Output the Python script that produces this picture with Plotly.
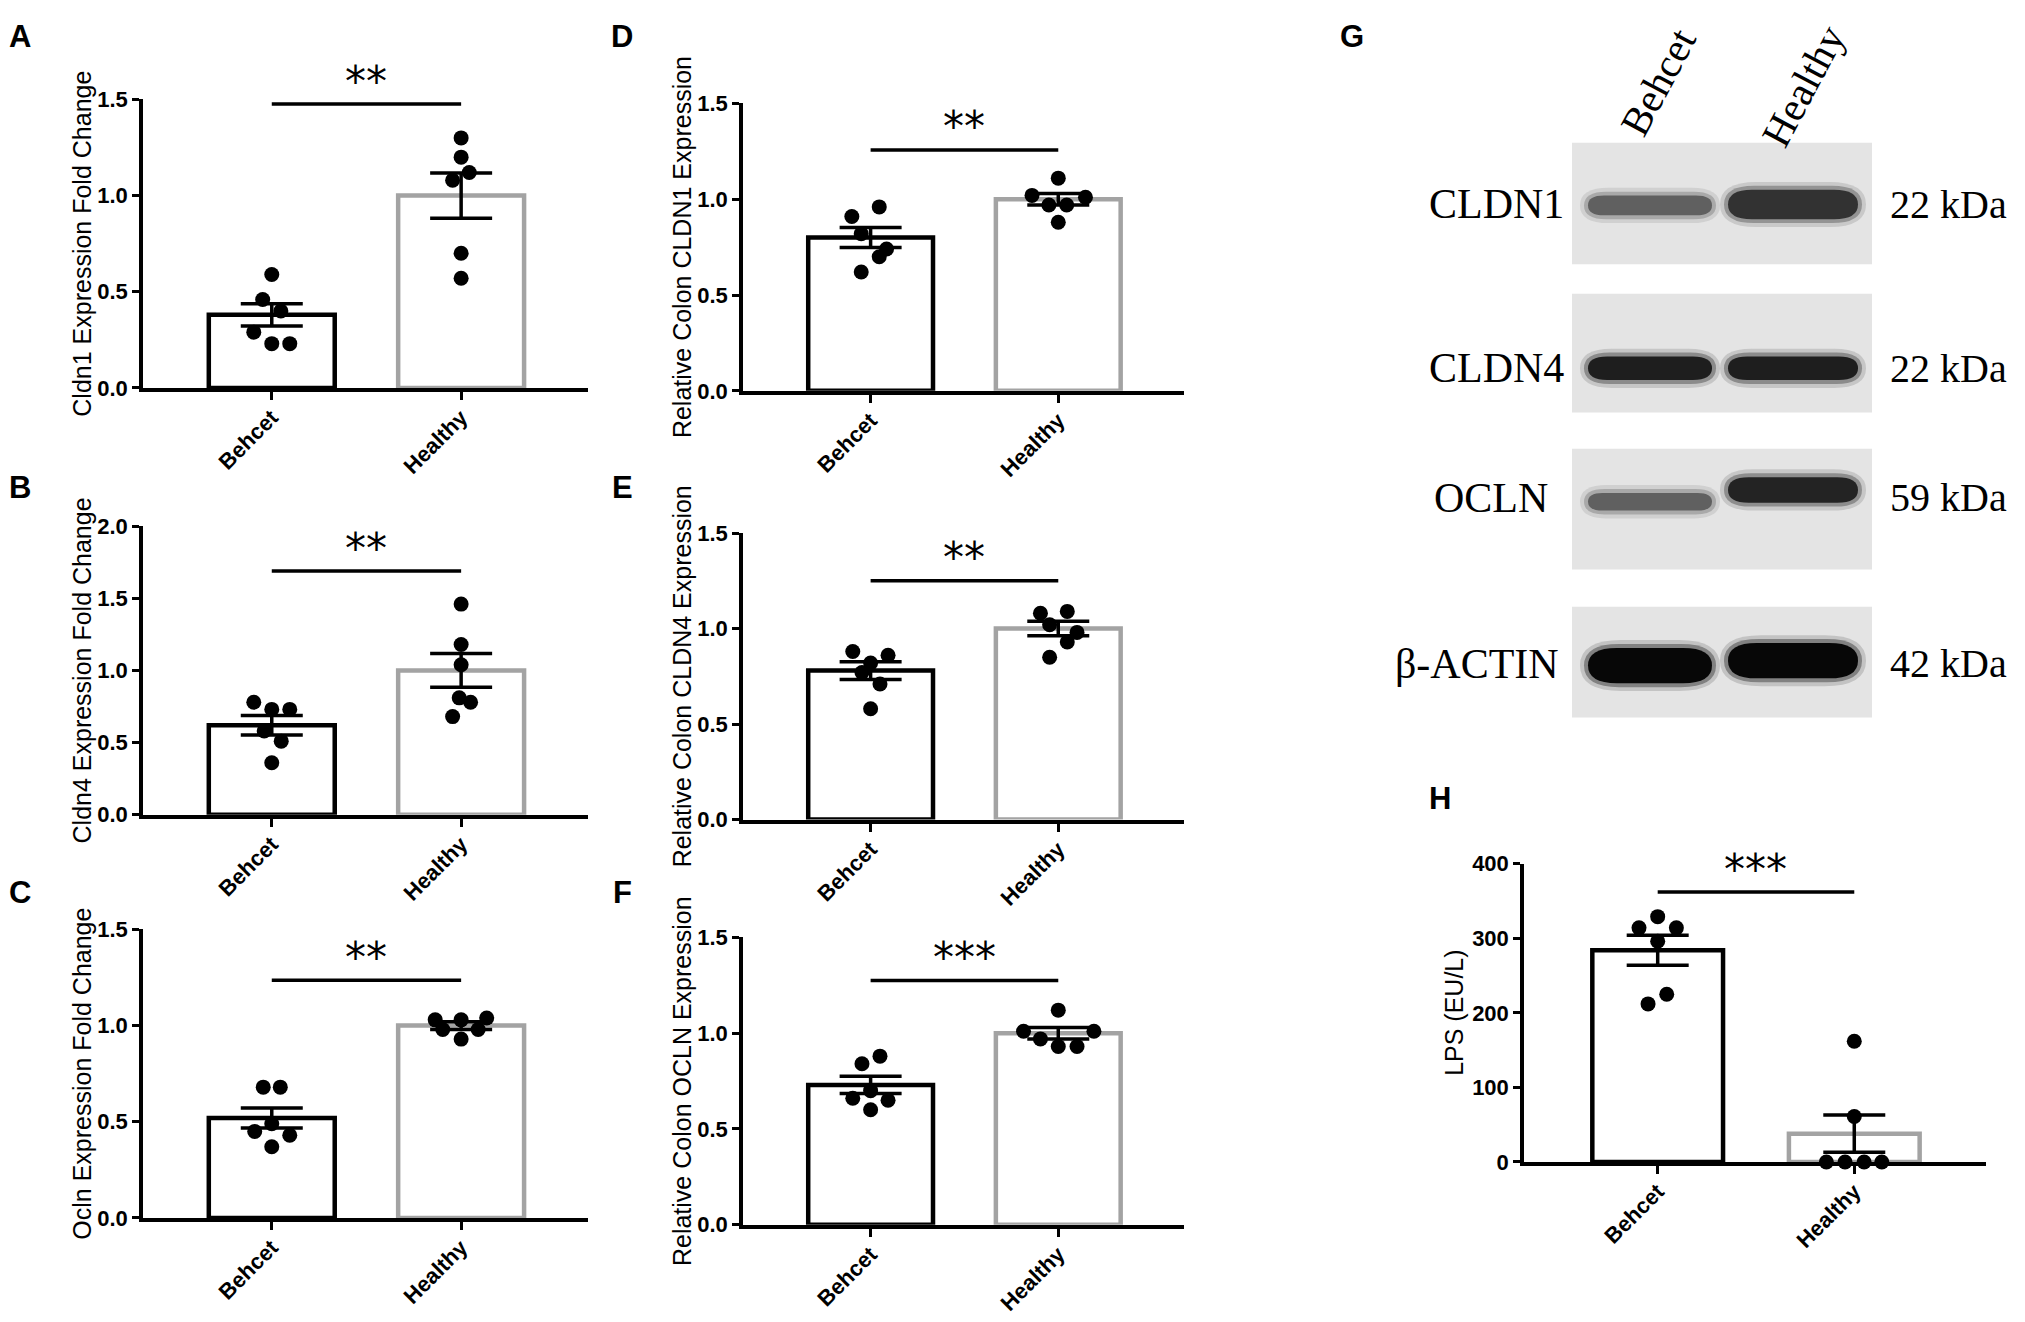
import plotly.graph_objects as go

W, H = 2025, 1322
SANS = "Liberation Sans"
SERIF = "Liberation Serif"

categories = ["Behcet", "Healthy"]

# ---- Panel A : Cldn1 fold change
a_mean = [0.38, 1.00]
a_sem = [0.058, 0.118]
a_behcet = [0.59, 0.46, 0.40, 0.29, 0.23, 0.23]
a_behcet_dx = [0.0, -0.048, 0.048, -0.095, 0.0, 0.095]
a_healthy = [1.30, 1.20, 1.12, 1.08, 0.70, 0.57]
a_healthy_dx = [0.0, 0.0, 0.043, -0.045, 0.0, 0.0]

# ---- Panel B : Cldn4 fold change
b_mean = [0.62, 1.00]
b_sem = [0.067, 0.117]
b_behcet = [0.78, 0.73, 0.73, 0.58, 0.51, 0.36]
b_behcet_dx = [-0.095, 0.0, 0.095, -0.04, 0.05, 0.0]
b_healthy = [1.46, 1.18, 1.04, 0.81, 0.78, 0.68]
b_healthy_dx = [0.0, 0.0, 0.0, -0.01, 0.05, -0.045]

# ---- Panel C : Ocln fold change
c_mean = [0.52, 1.00]
c_sem = [0.052, 0.02]
c_behcet = [0.68, 0.68, 0.49, 0.45, 0.43, 0.37]
c_behcet_dx = [-0.045, 0.045, 0.0, -0.09, 0.095, 0.0]
c_healthy = [1.03, 1.03, 1.04, 0.98, 0.98, 0.93]
c_healthy_dx = [-0.137, 0.0, 0.135, -0.097, 0.09, 0.0]

# ---- Panel D : relative colon CLDN1
d_mean = [0.80, 1.00]
d_sem = [0.052, 0.03]
d_behcet = [0.96, 0.91, 0.82, 0.74, 0.70, 0.62]
d_behcet_dx = [0.046, -0.10, -0.05, 0.085, 0.046, -0.05]
d_healthy = [1.11, 1.02, 1.01, 0.97, 0.97, 0.88]
d_healthy_dx = [0.0, -0.14, 0.145, -0.05, 0.045, 0.0]

# ---- Panel E : relative colon CLDN4
e_mean = [0.78, 1.00]
e_sem = [0.047, 0.038]
e_behcet = [0.88, 0.86, 0.82, 0.77, 0.71, 0.58]
e_behcet_dx = [-0.095, 0.093, 0.0, -0.046, 0.05, 0.0]
e_healthy = [1.08, 1.09, 1.02, 0.98, 0.93, 0.85]
e_healthy_dx = [-0.095, 0.048, -0.046, 0.10, 0.048, -0.046]

# ---- Panel F : relative colon OCLN
f_mean = [0.73, 1.00]
f_sem = [0.045, 0.03]
f_behcet = [0.88, 0.84, 0.70, 0.66, 0.65, 0.60]
f_behcet_dx = [0.05, -0.046, 0.0, -0.095, 0.093, 0.0]
f_healthy = [1.12, 1.01, 1.01, 0.97, 0.93, 0.93]
f_healthy_dx = [0.0, -0.185, 0.19, -0.095, 0.0, 0.10]

# ---- Panel H : LPS
h_mean = [284, 38]
h_sem = [20, 25]
h_behcet = [329, 314, 314, 296, 225, 212]
h_behcet_dx = [0.0, -0.095, 0.095, 0.0, 0.046, -0.049]
h_healthy = [162, 61, 0, 0, 0, 0]
h_healthy_dx = [0.0, 0.0, -0.142, -0.047, 0.05, 0.14]

# significance bars
sig_levels = [1.476, 1.689, 1.236, 1.257, 1.251, 1.275, 362]
sig_labels = ["**", "**", "**", "**", "**", "***", "***"]

# blot (G)
blot_proteins = ["CLDN1", "CLDN4", "OCLN", "β-ACTIN"]
blot_kda = ["22 kDa", "22 kDa", "59 kDa", "42 kDa"]
blot_behcet_intensity = [0.62, 0.88, 0.62, 0.97]
blot_healthy_intensity = [0.80, 0.88, 0.86, 0.97]

panels = [
    dict(letter="A", title="Cldn1 Expression Fold Change", mean=a_mean, sem=a_sem,
         b=a_behcet, bdx=a_behcet_dx, h=a_healthy, hdx=a_healthy_dx, ymax=1.5, dtick=0.5, fmt=".1f",
         box=(135, 580, 81, 375), lab=(12, 17), tx=74),
    dict(letter="B", title="Cldn4 Expression Fold Change", mean=b_mean, sem=b_sem,
         b=b_behcet, bdx=b_behcet_dx, h=b_healthy, hdx=b_healthy_dx, ymax=2.0, dtick=0.5, fmt=".1f",
         box=(135, 580, 516, 810), lab=(12, 477), tx=74),
    dict(letter="C", title="Ocln Expression Fold Change", mean=c_mean, sem=c_sem,
         b=c_behcet, bdx=c_behcet_dx, h=c_healthy, hdx=c_healthy_dx, ymax=1.5, dtick=0.5, fmt=".1f",
         box=(135, 580, 927, 1221), lab=(12, 889), tx=74),
    dict(letter="D", title="Relative Colon CLDN1 Expression", mean=d_mean, sem=d_sem,
         b=d_behcet, bdx=d_behcet_dx, h=d_healthy, hdx=d_healthy_dx, ymax=1.5, dtick=0.5, fmt=".1f",
         box=(735, 1176, 85, 378), lab=(614, 17), tx=674),
    dict(letter="E", title="Relative Colon CLDN4 Expression", mean=e_mean, sem=e_sem,
         b=e_behcet, bdx=e_behcet_dx, h=e_healthy, hdx=e_healthy_dx, ymax=1.5, dtick=0.5, fmt=".1f",
         box=(735, 1176, 523, 815), lab=(614, 477), tx=674),
    dict(letter="F", title="Relative Colon OCLN Expression", mean=f_mean, sem=f_sem,
         b=f_behcet, bdx=f_behcet_dx, h=f_healthy, hdx=f_healthy_dx, ymax=1.5, dtick=0.5, fmt=".1f",
         box=(735, 1176, 935, 1228), lab=(614, 889), tx=674),
    dict(letter="H", title="LPS (EU/L)", mean=h_mean, sem=h_sem,
         b=h_behcet, bdx=h_behcet_dx, h=h_healthy, hdx=h_healthy_dx, ymax=400, dtick=100, fmt="d",
         box=(1516, 1978, 860, 1164), lab=(1432, 794), tx=1446),
]


def px(x):
    return x / W


def py(y):
    return 1 - y / H


fig = go.Figure()
layout = dict(width=W, height=H, margin=dict(l=0, r=0, t=0, b=0),
              paper_bgcolor="white", plot_bgcolor="white", showlegend=False)
annotations = []
shapes = []

for i, p in enumerate(panels):
    n = i + 1
    xs = "" if n == 1 else str(n)
    x0, x1, y0, y1 = p["box"]
    layout["xaxis" + xs] = dict(
        domain=[px(x0), px(x1)], anchor="y" + xs, range=[-0.68, 1.67],
        tickmode="array", tickvals=[0, 1], ticktext=categories, tickangle=-45,
        ticks="outside", ticklen=8, tickwidth=3, tickcolor="black", ticklabelstandoff=-4,
        showline=True, linewidth=4, linecolor="black", showgrid=False, zeroline=False,
        tickfont=dict(family=SANS, size=22, color="black", weight="bold"), fixedrange=True)
    layout["yaxis" + xs] = dict(
        domain=[py(y1), py(y0)], anchor="x" + xs, range=[0, p["ymax"]],
        dtick=p["dtick"], tick0=0, tickformat=p["fmt"],
        ticks="outside", ticklen=7, tickwidth=3, tickcolor="black",
        showline=True, linewidth=3.5, linecolor="black", showgrid=False, zeroline=False,
        tickfont=dict(family=SANS, size=22, color="black", weight="bold"), fixedrange=True)

    fig.add_trace(go.Bar(
        x=[0, 1], y=p["mean"], width=0.665, xaxis="x" + xs, yaxis="y" + xs,
        marker=dict(color="white", line=dict(color=["black", "#a3a3a3"], width=4.5)),
        error_y=dict(type="data", array=p["sem"], color="black", thickness=3.5, width=31),
    ))
    fig.add_trace(go.Scatter(
        x=[0 + d for d in p["bdx"]] + [1 + d for d in p["hdx"]], y=p["b"] + p["h"],
        mode="markers", xaxis="x" + xs, yaxis="y" + xs, cliponaxis=False,
        marker=dict(color="black", size=15, line=dict(width=0)),
    ))
    fig.add_trace(go.Scatter(
        x=[0, 1], y=[sig_levels[i]] * 2, mode="lines", xaxis="x" + xs, yaxis="y" + xs,
        cliponaxis=False, line=dict(color="black", width=3.5),
    ))
    annotations.append(dict(
        x=0.5, y=sig_levels[i], xref="x" + xs, yref="y" + xs, text=sig_labels[i],
        showarrow=False, yanchor="middle", yshift=23,
        font=dict(family="DejaVu Sans", size=42, color="black")))
    annotations.append(dict(
        x=px(p["tx"]), y=py((y0 + y1) / 2), xref="paper", yref="paper", text=p["title"],
        showarrow=False, textangle=-90, xanchor="center", yanchor="middle",
        font=dict(family=SANS, size=25, color="black")))
    annotations.append(dict(
        x=px(p["lab"][0]), y=py(p["lab"][1]), xref="paper", yref="paper", text=p["letter"],
        showarrow=False, xanchor="center", yanchor="middle",
        font=dict(family=SANS, size=31, color="black", weight="bold")))

# ---- Panel G : western blot rendering
annotations.append(dict(x=px(1344), y=py(17), xref="paper", yref="paper", text="G",
                        showarrow=False, xanchor="center", yanchor="middle",
                        font=dict(family=SANS, size=31, color="black", weight="bold")))
annotations.append(dict(x=px(1650), y=py(63), xref="paper", yref="paper", text="Behcet",
                        showarrow=False, textangle=-62, xanchor="center", yanchor="middle",
                        font=dict(family=SERIF, size=41, color="black")))
annotations.append(dict(x=px(1795), y=py(67), xref="paper", yref="paper", text="Healthy",
                        showarrow=False, textangle=-62, xanchor="center", yanchor="middle",
                        font=dict(family=SERIF, size=41, color="black")))

box_rows = [(125, 249), (279, 400), (437, 560), (598, 711)]
band_rows_b = [189, 355, 491, 658]
band_rows_h = [188, 355, 479, 653]
band_half_b = [10, 12, 9, 18]
band_half_h = [15, 12, 13, 18]
lane_b = (1580, 1704)
lane_h = (1720, 1850)
row_label_x = [1558, 1558, 1542, 1553]
label_rows = [188, 355, 487, 656]


def band_path(xa, xb, yc, hh):
    r = min(hh * 1.6, (xb - xa) / 3)
    pts = [
        f"M {px(xa)},{py(yc)}",
        f"Q {px(xa)},{py(yc - hh)} {px(xa + r)},{py(yc - hh)}",
        f"L {px(xb - r)},{py(yc - hh)}",
        f"Q {px(xb)},{py(yc - hh)} {px(xb)},{py(yc)}",
        f"Q {px(xb)},{py(yc + hh)} {px(xb - r)},{py(yc + hh)}",
        f"L {px(xa + r)},{py(yc + hh)}",
        f"Q {px(xa)},{py(yc + hh)} {px(xa)},{py(yc)} Z",
    ]
    return " ".join(pts)


for k, (t, b) in enumerate(box_rows):
    shapes.append(dict(type="rect", xref="paper", yref="paper", x0=px(1564), x1=px(1864),
                       y0=py(b), y1=py(t), fillcolor="#e4e4e4", line=dict(width=0), layer="above"))
    for (xa, xb), yc, hh, inten in [
        (lane_b, band_rows_b[k], band_half_b[k], blot_behcet_intensity[k]),
        (lane_h, band_rows_h[k], band_half_h[k], blot_healthy_intensity[k]),
    ]:
        for grow, op in [(8, 0.15), (4, 0.35), (0, 1.0)]:
            g = int(255 * (1 - inten))
            col = f"rgb({g},{g},{g})"
            shapes.append(dict(type="path", xref="paper", yref="paper",
                               path=band_path(xa - grow, xb + grow, yc, hh + grow),
                               fillcolor=col, opacity=op, line=dict(width=0), layer="above"))
    annotations.append(dict(x=px(row_label_x[k]), y=py(label_rows[k]), xref="paper", yref="paper",
                            text=blot_proteins[k], showarrow=False, xanchor="right",
                            yanchor="middle", font=dict(family=SERIF, size=42, color="black")))
    annotations.append(dict(x=px(1880), y=py(label_rows[k]), xref="paper", yref="paper",
                            text=blot_kda[k], showarrow=False, xanchor="left",
                            yanchor="middle", font=dict(family=SERIF, size=40, color="black")))

layout["annotations"] = annotations
layout["shapes"] = shapes
fig.update_layout(**layout)
fig.write_html("out.html")
